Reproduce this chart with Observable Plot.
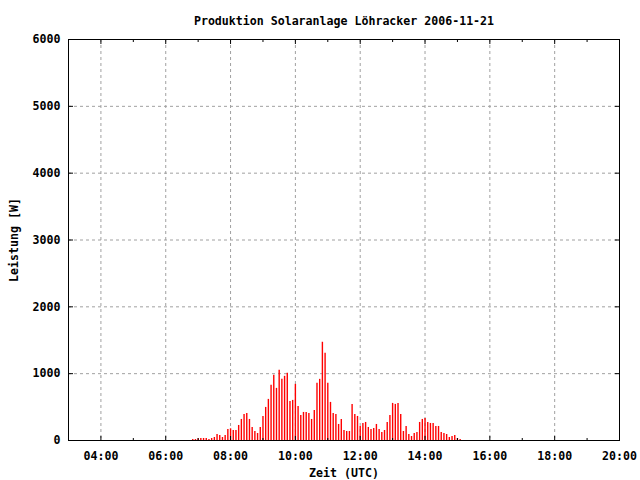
<!DOCTYPE html>
<html>
<head>
<meta charset="utf-8">
<script src="https://cdn.jsdelivr.net/npm/d3@7"></script>
<script src="https://cdn.jsdelivr.net/npm/@observablehq/plot@0.6"></script>
<style>
  html, body { margin: 0; padding: 0; background: white; }
</style>
</head>
<body>
<div id="chart"></div>
<script>
const title = "Produktion Solaranlage Löhracker 2006-11-21";
const xLabel = "Zeit (UTC)";
const yLabel = "Leistung [W]";

const times = [
  "06:50","06:55","07:00","07:05","07:10","07:15","07:20","07:25","07:30","07:35","07:40","07:45","07:50","07:55",
  "08:00","08:05","08:10","08:15","08:20","08:25","08:30","08:35","08:40","08:45","08:50","08:55",
  "09:00","09:05","09:10","09:15","09:20","09:25","09:30","09:35","09:40","09:45","09:50","09:55",
  "10:00","10:05","10:10","10:15","10:20","10:25","10:30","10:35","10:40","10:45","10:50","10:55",
  "11:00","11:05","11:10","11:15","11:20","11:25","11:30","11:35","11:40","11:45","11:50","11:55",
  "12:00","12:05","12:10","12:15","12:20","12:25","12:30","12:35","12:40","12:45","12:50","12:55",
  "13:00","13:05","13:10","13:15","13:20","13:25","13:30","13:35","13:40","13:45","13:50","13:55",
  "14:00","14:05","14:10","14:15","14:20","14:25","14:30","14:35","14:40","14:45","14:50","14:55",
  "15:00","15:05"
];
const watts = [
  15,15,25,30,30,30,15,30,45,90,75,45,75,165,
  175,150,150,225,315,390,405,315,195,135,105,195,
  360,495,615,825,975,780,1050,915,960,1005,585,600,
  840,510,375,420,420,405,315,450,855,915,1470,1305,
  855,570,405,390,240,315,150,135,135,540,390,360,
  210,255,270,195,165,180,240,165,120,150,270,375,
  555,540,555,390,135,210,90,60,105,120,270,315,
  330,270,255,255,210,210,120,105,90,45,60,75,
  30,15
];

const xDomainLabels = ["03:00", "20:00"];
const xTickLabels = ["04:00","06:00","08:00","10:00","12:00","14:00","16:00","18:00","20:00"];
const xMinorLabels = ["05:00","07:00","09:00","11:00","13:00","15:00","17:00","19:00"];
const yTicks = [0, 1000, 2000, 3000, 4000, 5000, 6000];

const hours = s => { const [h, m] = s.split(":").map(Number); return h + m / 60; };
const data = times.map((t, i) => ({h: hours(t), v: watts[i]}));
const majorX = xTickLabels.map(hours);
const minorX = xMinorLabels.map(hours);
const xDomain = xDomainLabels.map(hours);
const fmtX = d => xTickLabels[majorX.indexOf(d)];
const none = () => "";

const chart = Plot.plot({
  width: 640,
  height: 480,
  marginLeft: 68,
  marginRight: 21,
  marginTop: 39,
  marginBottom: 40,
  style: {
    fontFamily: "'DejaVu Sans Mono', monospace",
    fontSize: "11.6px",
    fontWeight: "bold",
    background: "white",
    color: "black"
  },
  x: {domain: xDomain},
  y: {domain: [yTicks[0], yTicks[yTicks.length - 1]]},
  marks: [
    Plot.gridX(majorX.slice(0, -1), {stroke: "#a0a0a0", strokeOpacity: 1, strokeDasharray: "3,3"}),
    Plot.gridY(yTicks.slice(1, -1), {stroke: "#a0a0a0", strokeOpacity: 1, strokeDasharray: "3,3"}),
    Plot.ruleX(data, {x: "h", y1: 0, y2: "v", stroke: "red", strokeWidth: 1.4}),
    Plot.frame({stroke: "black"}),
    Plot.axisY(yTicks, {anchor: "left", tickSize: 0, tickPadding: 8, label: yLabel, labelAnchor: "center", labelOffset: 59, labelArrow: "none", tickFormat: d => String(d)}),
    Plot.axisY(yTicks, {anchor: "left", tickSize: 5, dx: 5, tickFormat: none, label: null}),
    Plot.axisY(yTicks, {anchor: "right", tickSize: 5, dx: -5, tickFormat: none, label: null}),
    Plot.axisX(majorX, {anchor: "bottom", tickSize: 0, tickPadding: 11, tickFormat: fmtX, label: xLabel, labelAnchor: "center", labelOffset: 36, labelArrow: "none"}),
    Plot.axisX(majorX, {anchor: "bottom", tickSize: 4, dy: -4, tickFormat: none, label: null}),
    Plot.axisX(majorX, {anchor: "top", tickSize: 4, dy: 4, tickFormat: none, label: null}),
    Plot.axisX(minorX, {anchor: "bottom", tickSize: 2, dy: -2, tickFormat: none, label: null}),
    Plot.axisX(minorX, {anchor: "top", tickSize: 2, dy: 2, tickFormat: none, label: null}),
    Plot.text([title], {frameAnchor: "top", dy: -23, fill: "black"})
  ]
});
document.getElementById("chart").appendChild(chart);
</script>
</body>
</html>
